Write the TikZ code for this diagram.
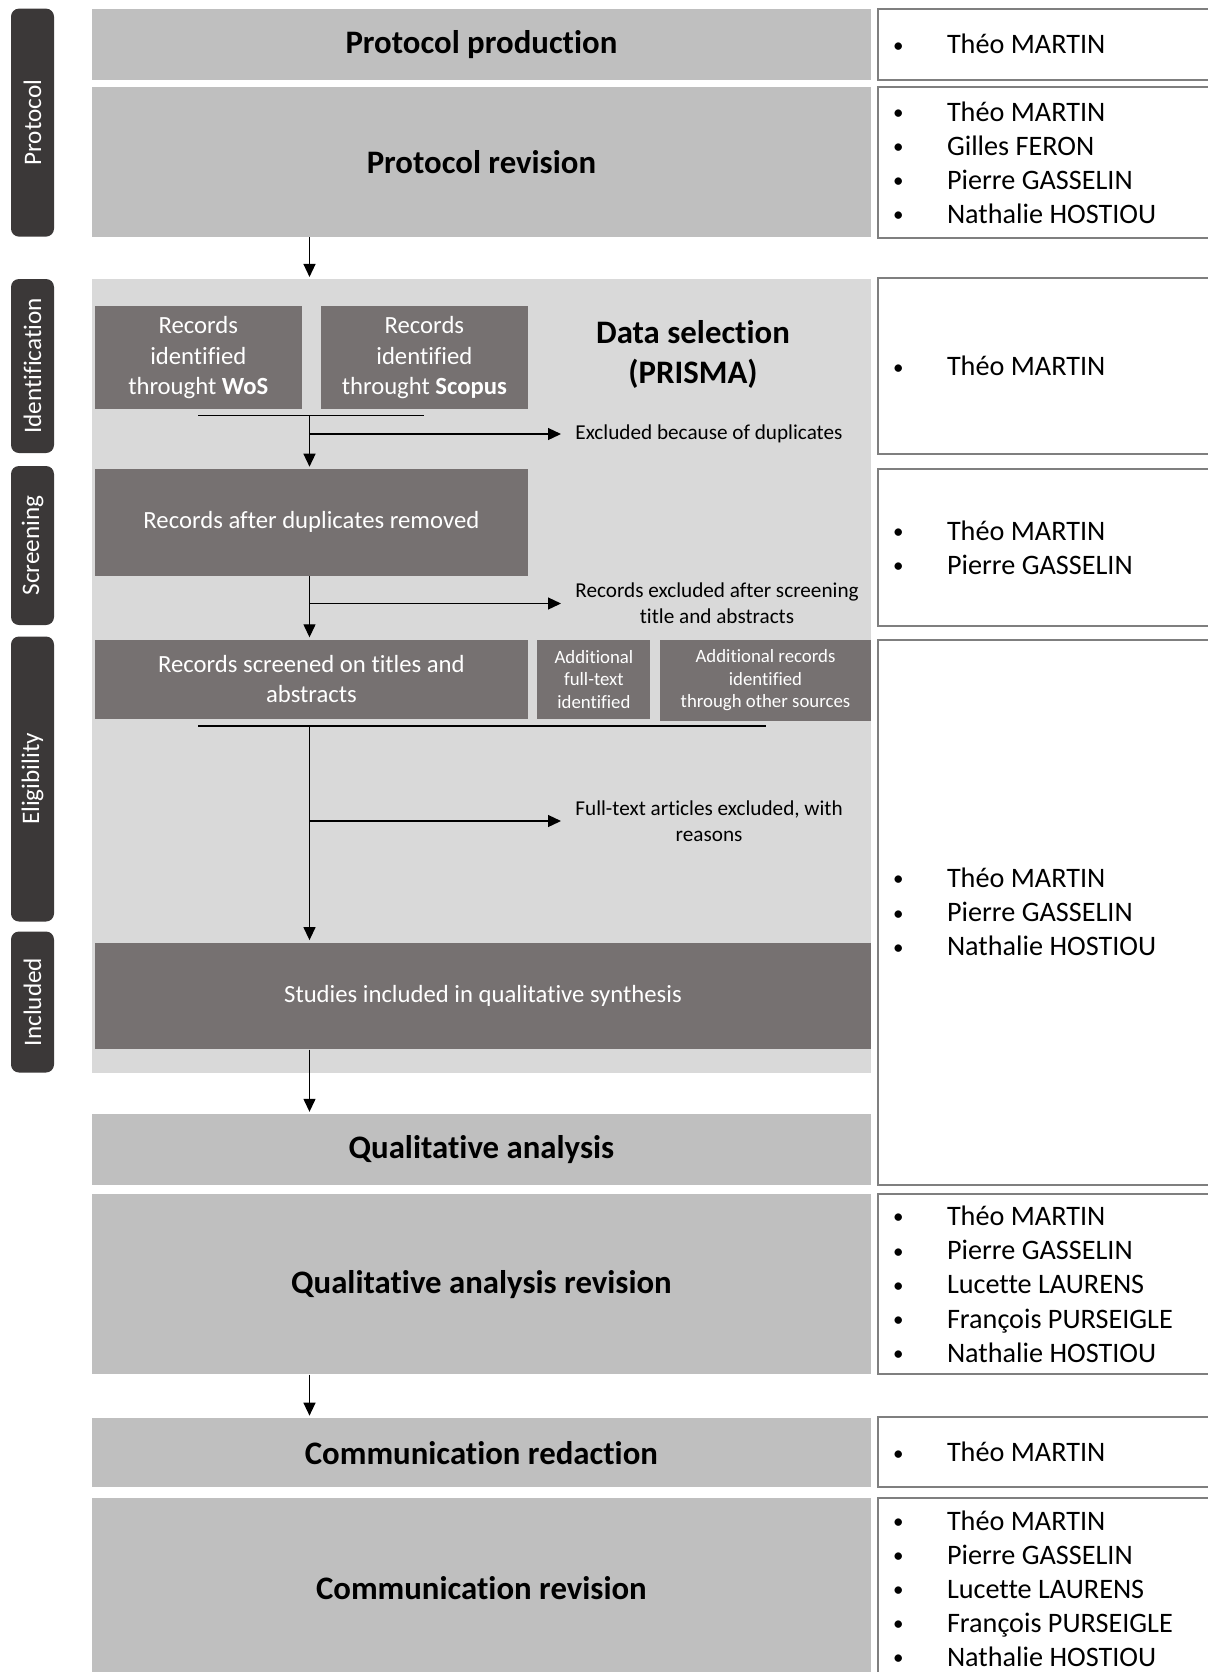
\documentclass[tikz,border=0pt]{standalone}
\usepackage{fontspec}
\setmainfont{Carlito}[Ligatures=NoCommon]
\usepackage{tikz}
\usetikzlibrary{arrows.meta}
\usetikzlibrary{positioning}
\definecolor{Greys-1}{RGB}{59,56,56}
\definecolor{Greys-2}{RGB}{118,113,113}
\definecolor{Greys-3}{RGB}{127,127,127}
\definecolor{Greys-4}{RGB}{191,191,191}
\definecolor{Greys-5}{RGB}{217,217,217}
\newcommand{\pp}[1]{\makebox[27.5pt][l]{\hspace{0.6pt}\raisebox{0.9pt}{\fontsize{10.5}{10}\selectfont\textbullet}}#1}

\begin{document}
\begin{tikzpicture}[x=0.5pt, y=-0.5pt]
    \tikzset{ tab/.style ={fill=Greys-1, rounded corners=4pt, text=white, rotate=90, minimum height=21.5pt, inner sep=0pt, font=\fontsize{12.6}{15}\selectfont} }
    \tikzset{ stg/.style ={fill=Greys-4, minimum width=389.7pt, inner sep=0pt, font=\fontsize{16.4}{20}\selectfont\bfseries} }
    \tikzset{ sel/.style ={fill=Greys-5, minimum width=389.7pt, inner sep=0pt} }
    \tikzset{ rec/.style ={fill=Greys-2, text=white, align=center, inner sep=0pt, font=\fontsize{12.35}{15.2}\selectfont} }
    \tikzset{ srec/.style={fill=Greys-2, text=white, align=center, inner sep=0pt, font=\fontsize{9.4}{11.2}\selectfont} }
    \tikzset{ xcl/.style ={anchor=west, align=center, inner xsep=6pt, inner ysep=0pt, font=\fontsize{10.6}{12.8}\selectfont} }
    \tikzset{ ppl/.style ={draw=Greys-3, line width=1pt, fill=white, minimum width=176.25pt, inner sep=0pt} }
    \tikzset{ nms/.style ={align=left, inner sep=0pt, outer sep=0pt, font=\fontsize{14.1}{17.05}\selectfont} }
    \tikzset{ bar/.style ={line width=0.65pt} }
    \tikzset{ arr/.style ={->, >={Triangle[length=6.5pt, width=6pt]}, line width=0.65pt, shorten >=1pt} }

    \useasboundingbox (0,0) rectangle (1208,1672);
    \clip (0,0) rectangle (1208,1672);

    % phases on the left
    \node[tab, minimum width=114pt  ] (tProt) at (32.5,122.6) {Protocol};
    \node[tab, minimum width=87pt   ] (tIden) at (32.5,366)   {Identification};
    \node[tab, minimum width=79.5pt ] (tScre) at (32.5,545.5) {Screening};
    \node[tab, minimum width=142.5pt] (tElig) at (32.5,779)   {Eligibility};
    \node[tab, minimum width=70.5pt ] (tIncl) at (32.5,1002)  {Included};

    % stages
    \node[stg, minimum height=35.75pt] (prod)    at (481.4,44.3)   {Protocol production};
    \node[stg, minimum height=74.65pt] (rev)     at (481.4,162)    {Protocol revision};
    \node[sel, minimum height=396.65pt] (prisma) at (481.4,676)    {};
    \node[stg, minimum height=35.2pt ] (qa)      at (481.4,1149.4) {Qualitative analysis};
    \node[stg, minimum height=90.1pt ] (qarev)   at (481.4,1284.2) {Qualitative analysis revision};
    \node[stg, minimum height=34.65pt] (comm)    at (481.4,1452.7) {Communication redaction};
    \node[stg, minimum height=90.5pt ] (commrev) at (481.4,1588.5) {Communication revision};

    \node[align=center, inner sep=0pt, font=\fontsize{16.4}{19.7}\selectfont\bfseries] (dsel) at (693,354.5) {Data selection\\(PRISMA)};

    % PRISMA boxes
    \node[rec, minimum width=103.4pt, minimum height=51.7pt] (wos)    at (198.3,357.7) {Records\\identified\\throught \textbf{WoS}};
    \node[rec, minimum width=103.4pt, minimum height=51.7pt] (scopus) at (424.4,357.7) {Records\\identified\\throught \textbf{Scopus}};
    \node[rec, minimum width=216.5pt, minimum height=53.3pt] (dup)    at (311.4,522.4) {Records after duplicates removed};
    \node[rec, minimum width=216.5pt, minimum height=39.5pt] (scr)    at (311.4,679.2) {Records screened on titles and\\abstracts};
    \node[srec, minimum width=56.5pt, minimum height=39.5pt] (ftx)    at (593.9,679.2) {Additional\\full-text\\identified};
    \node[srec, minimum width=105.5pt, minimum height=40.5pt] (oth)   at (765.5,680.3) {Additional records\\identified\\through other sources};
    \node[rec, minimum width=388pt, minimum height=53.3pt]   (stu)    at (483,995.8)   {Studies included in qualitative synthesis};

    \node[xcl] (exdup) at (563,434)   {Excluded because of duplicates};
    \node[xcl] (exscr) at (563,603.5) {Records excluded after screening\\title and abstracts};
    \node[xcl] (exftx) at (563,821)   {Full-text articles excluded, with\\reasons};

    \coordinate (barA) at (309.5,415.8);
    \coordinate (barB) at (309.5,726);

    \draw[bar] (wos |- barA) -- (scopus |- barA);
    \draw[bar] (wos |- barB) -- (oth |- barB);

    \draw[arr] (rev.south -| barA) -- (prisma.north -| barA);
    \draw[arr] (barA) -- (dup.north -| barA);
    \draw[arr] (barA |- exdup.west) -- (exdup.west);
    \draw[arr] (dup.south -| barA) -- (scr.north -| barA);
    \draw[arr] (barA |- exscr.west) -- (exscr.west);
    \draw[arr] (barB) -- (stu.north -| barA);
    \draw[arr] (barB |- exftx.west) -- (exftx.west);
    \draw[arr] (stu.south -| barA) -- (qa.north -| barA);
    \draw[arr] (qarev.south -| barA) -- (comm.north -| barA);

    % people
    \node[ppl, minimum height=35.75pt ] (r1) at (1053.75,44.25)   {};
    \node[ppl, minimum height=75.2pt  ] (r2) at (1053.75,162.6)   {};
    \node[ppl, minimum height=87.95pt ] (r3) at (1053.75,366.25)  {};
    \node[ppl, minimum height=78.4pt  ] (r4) at (1053.75,547.5)   {};
    \node[ppl, minimum height=272.45pt] (r5) at (1053.75,912.15)  {};
    \node[ppl, minimum height=90.1pt  ] (r6) at (1053.75,1284.2)  {};
    \node[ppl, minimum height=35.15pt ] (r7) at (1053.75,1452.15) {};
    \node[ppl, minimum height=90.5pt  ] (r8) at (1053.75,1588.5)  {};

    \node[nms, right=7.75pt of r1.west] (n1) {\pp{Théo MARTIN}};
    \node[nms, right=7.75pt of r2.west] (n2) {\pp{Théo MARTIN}\\\pp{Gilles FERON}\\\pp{Pierre GASSELIN}\\\pp{Nathalie HOSTIOU}};
    \node[nms, right=7.75pt of r3.west] (n3) {\pp{Théo MARTIN}};
    \node[nms, right=7.75pt of r4.west] (n4) {\pp{Théo MARTIN}\\\pp{Pierre GASSELIN}};
    \node[nms, right=7.75pt of r5.west] (n5) {\pp{Théo MARTIN}\\\pp{Pierre GASSELIN}\\\pp{Nathalie HOSTIOU}};
    \node[nms, right=7.75pt of r6.west] (n6) {\pp{Théo MARTIN}\\\pp{Pierre GASSELIN}\\\pp{Lucette LAURENS}\\\pp{François PURSEIGLE}\\\pp{Nathalie HOSTIOU}};
    \node[nms, right=7.75pt of r7.west] (n7) {\pp{Théo MARTIN}};
    \node[nms, right=7.75pt of r8.west] (n8) {\pp{Théo MARTIN}\\\pp{Pierre GASSELIN}\\\pp{Lucette LAURENS}\\\pp{François PURSEIGLE}\\\pp{Nathalie HOSTIOU}};
\end{tikzpicture}
\end{document}
